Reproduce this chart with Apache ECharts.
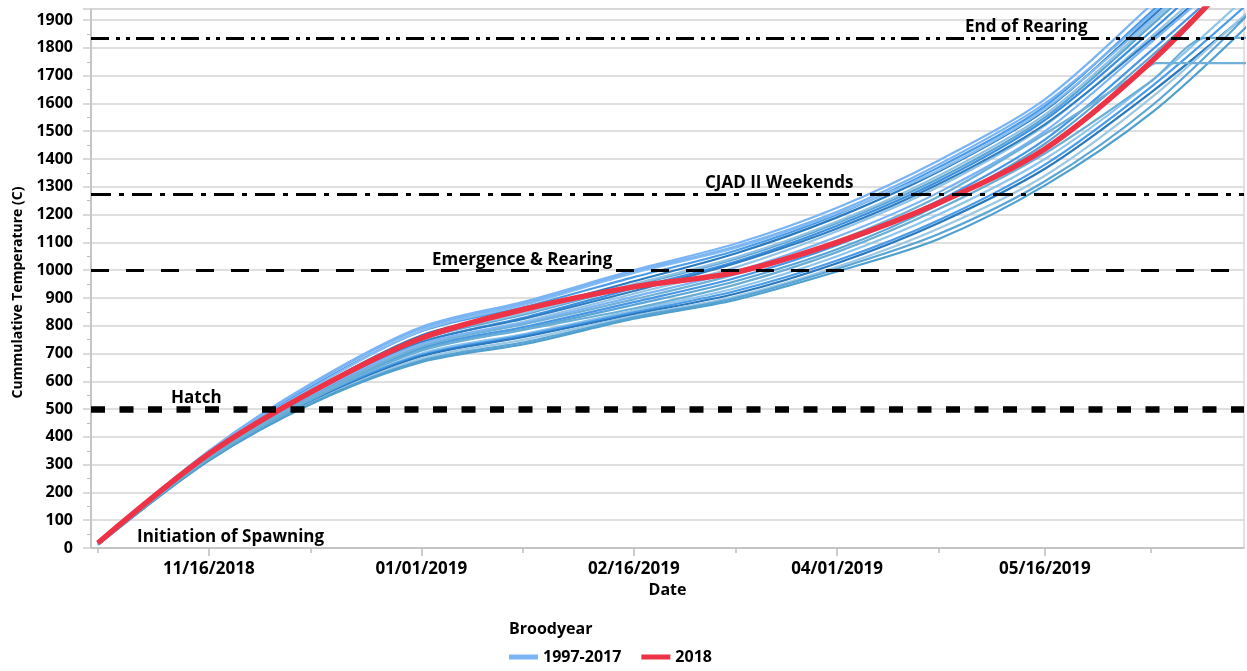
<!DOCTYPE html>
<html>
<head>
<meta charset="utf-8">
<script src="https://cdn.jsdelivr.net/npm/echarts@6/dist/echarts.min.js"></script>
<style>
  html, body { margin: 0; padding: 0; background: #fff; }
  #chart { width: 1247px; height: 671px; }
</style>
</head>
<body>
<div id="chart"></div>
<script>
// dates the curves were read at
const sampleDates = ['2018-10-23', '2018-11-16', '2018-12-09', '2019-01-01', '2019-01-24', '2019-02-16',
  '2019-03-10', '2019-04-01', '2019-04-23', '2019-05-16', '2019-06-08', '2019-06-29']

// broodyear 2018
const temps2018 = [18, 338, 569, 755, 862, 940, 992, 1100, 1242, 1436, 1750, 2110]

// broodyears 1997-2017 (one row per year, read at sampleDates)
const pastYears = [
  [18, 350, 600, 795, 890, 1000, 1095, 1225, 1395, 1615, 1955, 2280],
  [16, 345, 588, 780, 870, 975, 1070, 1200, 1370, 1590, 1930, 2250],
  [15, 335, 572, 765, 858, 960, 1060, 1190, 1355, 1575, 1910, 2230],
  [17, 340, 582, 782, 878, 990, 1080, 1205, 1360, 1580, 1900, 2220],
  [15, 333, 562, 750, 843, 945, 1040, 1170, 1330, 1550, 1880, 2200],
  [14, 330, 556, 740, 832, 935, 1030, 1160, 1320, 1540, 1860, 2180],
  [15, 328, 552, 730, 818, 915, 1010, 1140, 1300, 1520, 1840, 2150],
  [14, 330, 556, 740, 828, 925, 1025, 1150, 1310, 1525, 1830, 2130],
  [15, 332, 558, 735, 813, 905, 995, 1120, 1280, 1500, 1820, 2120],
  [14, 326, 547, 720, 798, 885, 972, 1090, 1250, 1470, 1790, 2100],
  [14, 325, 545, 715, 792, 875, 960, 1075, 1235, 1455, 1770, 2090],
  [13, 320, 537, 700, 773, 855, 935, 1050, 1200, 1400, 1680, 1990],
  [13, 322, 539, 695, 768, 848, 925, 1035, 1180, 1380, 1660, 1960],
  [13, 318, 532, 690, 762, 842, 915, 1025, 1170, 1365, 1640, 1925],
  [13, 316, 529, 682, 752, 835, 905, 1012, 1150, 1340, 1620, 1930],
  [12, 315, 527, 675, 743, 830, 900, 1005, 1130, 1320, 1590, 1920],
  [12, 315, 525, 669, 736, 825, 893, 995, 1112, 1305, 1565, 1882],
  [17, 345, 596, 790, 884, 995, 1085, 1210, 1380, 1600, 1920, 2240],
  [15, 336, 566, 755, 848, 950, 1045, 1175, 1340, 1560, 1890, 2210]
]

// two years whose record stops and stays flat
const flatDatesA = ['2018-10-23', '2018-11-16', '2018-12-09', '2019-01-01', '2019-01-24', '2019-02-16',
  '2019-03-10', '2019-04-01', '2019-04-23', '2019-05-16', '2019-06-08', '2019-06-09', '2019-06-29']
const flatTempsA = [14, 328, 549, 725, 808, 895, 985, 1105, 1265, 1490, 1738, 1745, 1745]
const flatDatesB = ['2018-10-23', '2018-11-16', '2018-12-09', '2019-01-01', '2019-01-24', '2019-02-16',
  '2019-03-10', '2019-04-01', '2019-04-23', '2019-05-16', '2019-06-08', '2019-06-20', '2019-06-29']
const flatTempsB = [14, 322, 542, 710, 788, 862, 948, 1065, 1220, 1420, 1680, 1836, 1836]

// reference levels
const refValues = [1836, 1275, 1000, 500, 0]
const refNames = ['End of Rearing', 'CJAD II Weekends', 'Emergence & Rearing', 'Hatch', 'Initiation of Spawning']

// axis ticks
const labelDates = ['2018-11-16', '2019-01-01', '2019-02-16', '2019-04-01', '2019-05-16']
const minorDates = ['2018-10-23', '2018-12-08', '2019-01-23', '2019-03-10', '2019-04-23', '2019-06-08']
const axisStart = '2018-10-21'
const axisEnd = '2019-06-28'

const pastColors = ['#7ab4f5', '#4a9be8', '#2b7bc0', '#86bdf2', '#5aa5d6', '#3d8fe0', '#93c3e6', '#2f7fc2',
  '#7ab4f5', '#4797e6', '#5aa5d6', '#8cc4ec', '#4a9be8', '#2a78bd', '#9cc8e4', '#5aa5d6', '#4f9fcf',
  '#7ab4f5', '#8fc1e3']

const FONT = '"Open Sans", "Noto Sans", sans-serif'
const DAY = 86400000

function toTime(s) {
  const p = s.split('-').map(Number)
  return Date.UTC(p[0], p[1] - 1, p[2])
}
function fmtDate(v) {
  const t = new Date(v)
  const pad = n => String(n).padStart(2, '0')
  return pad(t.getUTCMonth() + 1) + '/' + pad(t.getUTCDate()) + '/' + t.getUTCFullYear()
}
function pairs(dates, vals) {
  return vals.map((v, i) => [toTime(dates[i]), v])
}

const chart = echarts.init(document.getElementById('chart'))

let series = []
pastYears.forEach((vals, i) => {
  series.push({
    name: '1997-2017', type: 'line', data: pairs(sampleDates, vals),
    showSymbol: false, smooth: 0.3, color: pastColors[i],
    lineStyle: { width: 2.2, color: pastColors[i] }, z: 2
  })
})
series.push({
  name: '1997-2017', type: 'line', data: pairs(flatDatesA, flatTempsA),
  showSymbol: false, smooth: 0.3, lineStyle: { width: 2.2, color: '#6fb0d8' }, z: 2
})
series.push({
  name: '1997-2017', type: 'line', data: pairs(flatDatesB, flatTempsB),
  showSymbol: false, smooth: 0.3, lineStyle: { width: 2.2, color: '#6aaed6' }, z: 2
})
series.push({
  name: '2018', type: 'line', data: pairs(sampleDates, temps2018),
  showSymbol: false, smooth: 0.3, color: '#ee3347',
  lineStyle: { width: 5.5, color: '#ee3347' }, z: 3
})

const refStyles = [
  { type: [18, 7, 4, 6, 4, 6], width: 3, color: '#000' },
  { type: [20, 8, 5, 8], width: 3, color: '#000' },
  { type: [18, 17], width: 3, color: '#000' },
  { type: [14, 14.5], width: 6.5, color: '#000' },
  { width: 1, color: 'rgba(0,0,0,0)' }
]
const refOffsets = [874, 614, 341, 80, 46]

series.push({
  name: 'refs', type: 'line', data: [], z: 5,
  markLine: {
    silent: true, symbol: ['none', 'none'], animation: false,
    data: refValues.map((v, i) => ({
      yAxis: v,
      lineStyle: refStyles[i],
      label: {
        show: true, position: 'insideStartTop', formatter: refNames[i],
        distance: [refOffsets[i], 2], color: '#000', fontFamily: FONT,
        fontWeight: 'bold', fontSize: 17
      }
    }))
  }
})

const xMin = toTime(axisStart) + 0.5 * DAY
const xMax = toTime(axisEnd) + 0.1 * DAY

chart.setOption({
  animation: false,
  backgroundColor: '#fff',
  textStyle: { fontFamily: FONT },
  title: {
    text: 'Broodyear', left: 509, top: 621, padding: 0,
    textStyle: { fontFamily: FONT, fontSize: 16, fontWeight: 'bold', color: '#000' }
  },
  legend: {
    data: [{ name: '1997-2017' }, { name: '2018' }],
    left: 509, top: 649, icon: 'rect', itemWidth: 29, itemHeight: 5, itemGap: 20,
    padding: 0,
    textStyle: { fontFamily: FONT, fontSize: 16, fontWeight: 'bold', color: '#000' }
  },
  grid: {
    left: 91, right: 3, top: 9, bottom: 123, show: true,
    borderColor: '#c4c4c4', borderWidth: 1
  },
  xAxis: [{
    type: 'value', min: xMin, max: xMax,
    name: 'Date', nameLocation: 'middle', nameGap: 34,
    nameTextStyle: { fontFamily: FONT, fontSize: 16, fontWeight: 'bold', color: '#000' },
    axisLine: { show: true, lineStyle: { color: '#bdbdbd', width: 1.5 } },
    axisTick: { show: true, length: 8, lineStyle: { color: '#bdbdbd', width: 1.5 }, customValues: labelDates.map(toTime) },
    axisLabel: {
      customValues: labelDates.map(toTime), formatter: fmtDate, margin: 13,
      fontFamily: FONT, fontSize: 17, fontWeight: 'bold', color: '#000'
    },
    splitLine: { show: false }
  }, {
    type: 'value', min: xMin, max: xMax,
    position: 'bottom',
    axisLine: { show: false },
    axisTick: { show: true, length: 5, lineStyle: { color: '#bdbdbd', width: 1.5 }, customValues: minorDates.map(toTime) },
    axisLabel: { show: false },
    splitLine: { show: false }
  }],
  yAxis: {
    type: 'value', min: 0, max: 1940, interval: 100,
    name: 'Cummulative Temperature (C)', nameLocation: 'middle', nameGap: 64,
    nameTextStyle: { fontFamily: FONT, fontSize: 14, fontWeight: 'bold', color: '#000', padding: [0, 28, 0, 0] },
    axisLine: { show: true, lineStyle: { color: '#bdbdbd', width: 1.5 } },
    axisTick: { show: true, length: 8, lineStyle: { color: '#cfcfcf', width: 1.5 } },
    minorTick: { show: true, splitNumber: 2, length: 4, lineStyle: { color: '#bdbdbd', width: 1 } },
    axisLabel: {
      margin: 18, showMaxLabel: false, formatter: v => String(v),
      fontFamily: FONT, fontSize: 16, fontWeight: 'bold', color: '#000'
    },
    splitLine: { show: true, lineStyle: { color: '#d4d4d4', width: 1.5 } }
  },
  series: series
})
</script>
</body>
</html>
